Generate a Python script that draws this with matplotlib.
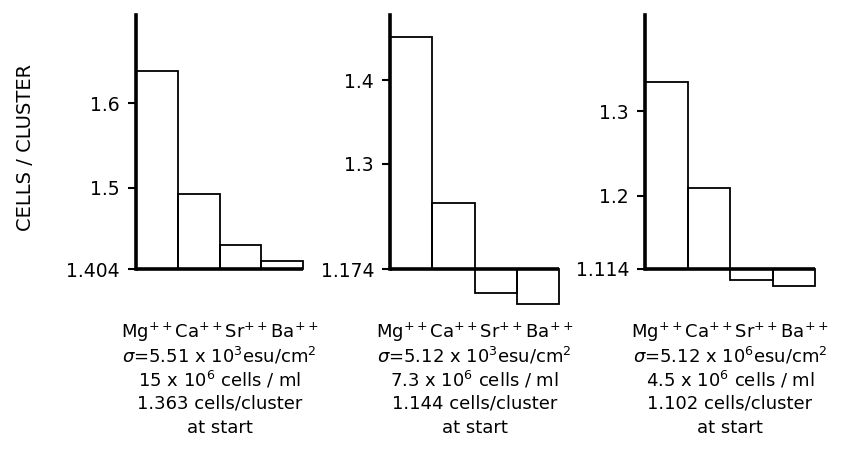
import matplotlib
matplotlib.use("Agg")
import matplotlib.pyplot as plt

# ---- data ----
ions = ["Mg", "Ca", "Sr", "Ba"]
panel1_values = [1.638, 1.493, 1.432, 1.414]
panel2_values = [1.452, 1.253, 1.145, 1.132]
panel3_values = [1.334, 1.210, 1.101, 1.0945]
baselines = [1.404, 1.174, 1.114]
panel1_ticks = [1.404, 1.5, 1.6]
panel2_ticks = [1.174, 1.3, 1.4]
panel3_ticks = [1.114, 1.2, 1.3]
panel1_ticklabels = ["1.404", "1.5", "1.6"]
panel2_ticklabels = ["1.174", "1.3", "1.4"]
panel3_ticklabels = ["1.114", "1.2", "1.3"]
sigma_lines = [r"$\sigma$=5.51 x 10$^{3}$esu/cm$^{2}$",
               r"$\sigma$=5.12 x 10$^{3}$esu/cm$^{2}$",
               r"$\sigma$=5.12 x 10$^{6}$esu/cm$^{2}$"]
density_lines = [r"15 x 10$^{6}$ cells / ml",
                 r"7.3 x 10$^{6}$ cells / ml",
                 r"4.5 x 10$^{6}$ cells / ml"]
start_lines = ["1.363 cells/cluster", "1.144 cells/cluster", "1.102 cells/cluster"]
ylabel = "CELLS / CLUSTER"

values = [panel1_values, panel2_values, panel3_values]
ticks = [panel1_ticks, panel2_ticks, panel3_ticks]
ticklabels = [panel1_ticklabels, panel2_ticklabels, panel3_ticklabels]

# ---- layout ----
W, H = 842, 462
fig = plt.figure(figsize=(W / 100, H / 100), dpi=100)
plt.rcParams["mathtext.fontset"] = "dejavusans"

ax_px = [(136, 303), (390, 559), (645, 815)]   # left/right pixel edges
ylims = [(1.3556, 1.704), (1.125, 1.4778), (1.0657, 1.4132)]
top_px, bot_px = 15, 310

ion_label = "".join(f"{ion}$^{{++}}$" for ion in ions)

for i in range(3):
    l, r = ax_px[i]
    ax = fig.add_axes([l / W, (H - bot_px) / H, (r - l) / W, (bot_px - top_px) / H])
    base = baselines[i]
    heights = [v - base for v in values[i]]
    ax.bar(range(len(ions)), heights, bottom=base, width=1.0, align="edge",
           fill=False, edgecolor="black", linewidth=1.3, clip_on=False)
    ax.set_xlim(0, len(ions))
    ax.set_ylim(*ylims[i])
    ax.plot([0, len(ions)], [base, base], color="black", linewidth=2.6,
            solid_capstyle="butt", clip_on=False)
    for s in ["top", "right", "bottom"]:
        ax.spines[s].set_visible(False)
    ax.spines["left"].set_linewidth(2.6)
    ax.spines["left"].set_bounds(base, ylims[i][1])
    ax.set_xticks([])
    ax.set_yticks(ticks[i])
    ax.set_yticklabels(ticklabels[i])
    ax.tick_params(axis="y", direction="out", length=5.5, width=1.5, pad=6,
                   labelsize=13.5)
    ax.patch.set_visible(False)

    cx = (l + r) / 2 / W
    lines = [ion_label, sigma_lines[i], density_lines[i], start_lines[i], "at start"]
    baselines_px = [338, 362, 386, 409, 433]
    for txt, ypx in zip(lines, baselines_px):
        fig.text(cx, 1 - ypx / H, txt, ha="center", va="baseline", fontsize=13)

fig.text(26 / W, 1 - 147 / H, ylabel, rotation=90, ha="center", va="center",
         fontsize=14)

fig.savefig("out.png", dpi=100)
